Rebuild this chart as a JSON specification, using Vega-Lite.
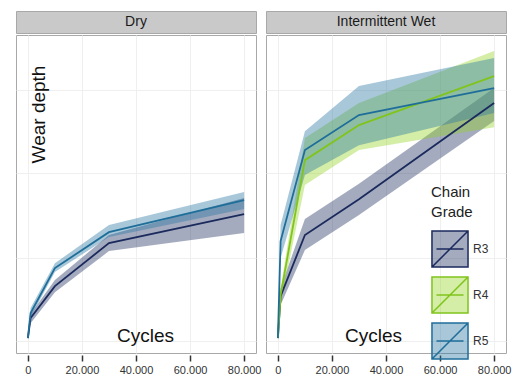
{
  "$schema": "https://vega.github.io/schema/vega-lite/v6.json",
  "padding": {"top": 10, "left": 15, "right": 0, "bottom": 0},
  "spacing": 3,
  "config": {
    "font": "Liberation Sans",
    "view": {"stroke": "#a8a8a8", "strokeWidth": 1},
    "axis": {"gridColor": "#efefef", "gridWidth": 1},
    "legend": {"orient": "none", "legendX": 415, "legendY": 174, "titleFontSize": 15, "titleFontWeight": "normal", "titleColor": "#222", "titleLineHeight": 20, "titlePadding": 10,
      "symbolType": "M-1,-1H1V1H-1Z M-1,1L1,-1 M-0.75,0H0.75", "symbolSize": 1300, "symbolStrokeWidth": 1.5, "symbolOpacity": 1, "labelFontSize": 12, "labelColor": "#333", "labelOffset": 4}
  },
  "datasets": {
    "wear": [
      {"cond": "Dry", "grade": "R3", "cycles": 0, "depth": 0, "lo": 0, "hi": 0},
      {"cond": "Dry", "grade": "R3", "cycles": 1000, "depth": 7.0, "lo": 5.2, "hi": 8.4},
      {"cond": "Dry", "grade": "R3", "cycles": 10000, "depth": 18.1, "lo": 16.0, "hi": 20.2},
      {"cond": "Dry", "grade": "R3", "cycles": 30000, "depth": 33.1, "lo": 30.3, "hi": 35.9},
      {"cond": "Dry", "grade": "R3", "cycles": 80000, "depth": 43.2, "lo": 36.6, "hi": 48.8},
      {"cond": "Dry", "grade": "R5", "cycles": 0, "depth": 0, "lo": 0, "hi": 0},
      {"cond": "Dry", "grade": "R5", "cycles": 1000, "depth": 8.7, "lo": 7.3, "hi": 10.5},
      {"cond": "Dry", "grade": "R5", "cycles": 10000, "depth": 24.4, "lo": 23.0, "hi": 26.1},
      {"cond": "Dry", "grade": "R5", "cycles": 30000, "depth": 36.9, "lo": 35.2, "hi": 39.4},
      {"cond": "Dry", "grade": "R5", "cycles": 80000, "depth": 48.1, "lo": 45.0, "hi": 50.9},
      {"cond": "Intermittent Wet", "grade": "R3", "cycles": 0, "depth": 0, "lo": 0, "hi": 0},
      {"cond": "Intermittent Wet", "grade": "R3", "cycles": 1000, "depth": 14.6, "lo": 11.5, "hi": 17.4},
      {"cond": "Intermittent Wet", "grade": "R3", "cycles": 10000, "depth": 35.9, "lo": 30.7, "hi": 41.5},
      {"cond": "Intermittent Wet", "grade": "R3", "cycles": 30000, "depth": 48.4, "lo": 42.9, "hi": 53.8},
      {"cond": "Intermittent Wet", "grade": "R3", "cycles": 80000, "depth": 81.9, "lo": 75.6, "hi": 87.1},
      {"cond": "Intermittent Wet", "grade": "R4", "cycles": 0, "depth": 0, "lo": 0, "hi": 0},
      {"cond": "Intermittent Wet", "grade": "R4", "cycles": 1000, "depth": 15.0, "lo": 12.2, "hi": 17.4},
      {"cond": "Intermittent Wet", "grade": "R4", "cycles": 10000, "depth": 62.0, "lo": 53.3, "hi": 69.7},
      {"cond": "Intermittent Wet", "grade": "R4", "cycles": 30000, "depth": 74.2, "lo": 65.5, "hi": 81.9},
      {"cond": "Intermittent Wet", "grade": "R4", "cycles": 80000, "depth": 91.3, "lo": 73.5, "hi": 100},
      {"cond": "Intermittent Wet", "grade": "R5", "cycles": 0, "depth": 0, "lo": 0, "hi": 0},
      {"cond": "Intermittent Wet", "grade": "R5", "cycles": 1000, "depth": 33.8, "lo": 27.9, "hi": 39.4},
      {"cond": "Intermittent Wet", "grade": "R5", "cycles": 10000, "depth": 65.5, "lo": 56.8, "hi": 72.1},
      {"cond": "Intermittent Wet", "grade": "R5", "cycles": 30000, "depth": 77.7, "lo": 67.2, "hi": 87.8},
      {"cond": "Intermittent Wet", "grade": "R5", "cycles": 80000, "depth": 87.1, "lo": 78.4, "hi": 97.6}
    ]
  },
  "hconcat": [
    {
      "spacing": 0,
      "vconcat": [
        {
          "width": 240, "height": 22,
          "view": {"fill": "#c9c9c9", "stroke": "#a8a8a8"},
          "data": {"values": [{"label": "Dry"}]},
          "mark": {"type": "text", "fontSize": 14, "color": "#1a1a1a", "baseline": "middle"},
          "encoding": {"text": {"field": "label"}}
        },
        {
          "width": 240, "height": 318,
          "data": {"name": "wear"},
          "transform": [{"filter": "datum.cond === 'Dry'"}],
          "encoding": {
            "x": {"field": "cycles", "type": "quantitative", "scale": {"domain": [-4400, 84400], "nice": false, "zero": false},
              "axis": {"values": [0, 20000, 40000, 60000, 80000], "labelExpr": "replace(format(datum.value, ','), ',', '.')", "labelFontSize": 11, "labelColor": "#333", "tickColor": "#333", "tickWidth": 1.5, "tickSize": 6, "labelPadding": 3, "domain": false, "offset": 2,
                "title": "Cycles", "titleFontSize": 19, "titleFontWeight": "normal", "titleColor": "#111", "titleX": 129, "titleY": -20, "titleBaseline": "middle", "titleAlign": "center"}}
          },
          "layer": [
            {
              "mark": {"type": "area"},
              "encoding": {
                "y": {"field": "lo", "type": "quantitative", "scale": {"domain": [-5.2, 105.6], "nice": false, "zero": false},
                  "axis": {"values": [-1, 28, 57.5, 86.5], "labels": false, "ticks": false, "domain": false, "title": "Wear depth", "titleFontSize": 19, "titleFontWeight": "normal", "titleColor": "#111", "titleX": 22, "titleY": 79, "titleAngle": -90, "titleBaseline": "middle", "titleAlign": "center"}},
                "y2": {"field": "hi"},
                "fill": {"field": "grade", "type": "nominal", "title": ["Chain", "Grade"], "scale": {"domain": ["R3", "R4", "R5"], "range": ["#1c2d5e66", "#94d12266", "#2676a366"]}, "legend": {"title": ["Chain", "Grade"]}}
              }
            },
            {
              "mark": {"type": "line", "strokeWidth": 1.8},
              "encoding": {
                "y": {"field": "depth", "type": "quantitative"},
                "stroke": {"field": "grade", "type": "nominal", "title": ["Chain", "Grade"], "scale": {"domain": ["R3", "R4", "R5"], "range": ["#1b2a5c", "#80c41c", "#1f6e9a"]}, "legend": {"title": ["Chain", "Grade"]}}
              }
            }
          ]
        }
      ]
    },
    {
      "spacing": 0,
      "vconcat": [
        {
          "width": 240, "height": 22,
          "view": {"fill": "#c9c9c9", "stroke": "#a8a8a8"},
          "data": {"values": [{"label": "Intermittent Wet"}]},
          "mark": {"type": "text", "fontSize": 14, "color": "#1a1a1a", "baseline": "middle"},
          "encoding": {"text": {"field": "label"}}
        },
        {
          "width": 240, "height": 318,
          "data": {"name": "wear"},
          "transform": [{"filter": "datum.cond === 'Intermittent Wet'"}],
          "encoding": {
            "x": {"field": "cycles", "type": "quantitative", "scale": {"domain": [-4400, 84400], "nice": false, "zero": false},
              "axis": {"values": [0, 20000, 40000, 60000, 80000], "labelExpr": "replace(format(datum.value, ','), ',', '.')", "labelFontSize": 11, "labelColor": "#333", "tickColor": "#333", "tickWidth": 1.5, "tickSize": 6, "labelPadding": 3, "domain": false, "offset": 2,
                "title": "Cycles", "titleFontSize": 19, "titleFontWeight": "normal", "titleColor": "#111", "titleX": 107, "titleY": -20, "titleBaseline": "middle", "titleAlign": "center"}}
          },
          "layer": [
            {
              "mark": {"type": "area"},
              "encoding": {
                "y": {"field": "lo", "type": "quantitative", "scale": {"domain": [-5.2, 105.6], "nice": false, "zero": false},
                  "axis": {"values": [-1, 28, 57.5, 86.5], "labels": false, "ticks": false, "domain": false, "title": null}},
                "y2": {"field": "hi"},
                "fill": {"field": "grade", "type": "nominal", "title": ["Chain", "Grade"], "scale": {"domain": ["R3", "R4", "R5"], "range": ["#1c2d5e66", "#94d12266", "#2676a366"]}, "legend": {"title": ["Chain", "Grade"]}}
              }
            },
            {
              "mark": {"type": "line", "strokeWidth": 1.8},
              "encoding": {
                "y": {"field": "depth", "type": "quantitative"},
                "stroke": {"field": "grade", "type": "nominal", "title": ["Chain", "Grade"], "scale": {"domain": ["R3", "R4", "R5"], "range": ["#1b2a5c", "#80c41c", "#1f6e9a"]}, "legend": {"title": ["Chain", "Grade"]}}
              }
            }
          ]
        }
      ]
    }
  ]
}
